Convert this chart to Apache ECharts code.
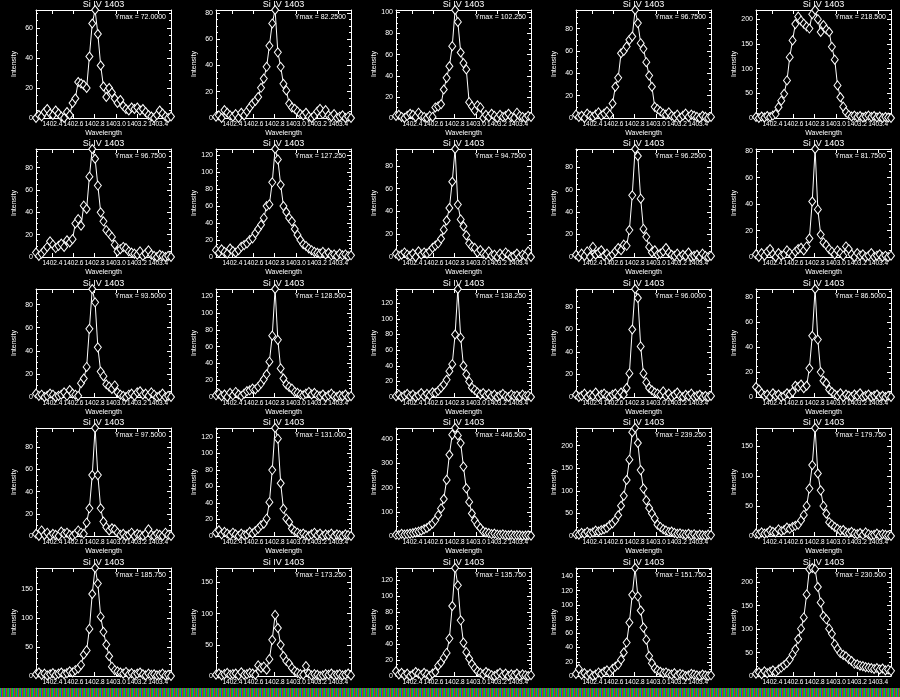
<!DOCTYPE html>
<html><head><meta charset="utf-8">
<script src="https://cdn.jsdelivr.net/npm/echarts@6/dist/echarts.min.js"></script>
<style>html,body{margin:0;padding:0;background:#000}#c{width:900px;height:697px}</style>
</head><body><div id="c"></div>
<script>
const wavelength = [1402.245,1402.272,1402.298,1402.325,1402.351,1402.378,1402.405,1402.431,1402.458,1402.484,1402.511,1402.538,1402.564,1402.591,1402.617,1402.644,1402.671,1402.697,1402.724,1402.750,1402.777,1402.804,1402.830,1402.857,1402.883,1402.910,1402.937,1402.963,1402.990,1403.016,1403.043,1403.070,1403.096,1403.123,1403.149,1403.176,1403.203,1403.229,1403.256,1403.282,1403.309,1403.336,1403.362,1403.389,1403.415,1403.442,1403.469,1403.495,1403.522];
const xTicks = [1402.4,1402.6,1402.8,1403.0,1403.2,1403.4];
const panelTitle = 'Si IV 1403';
const xName = 'Wavelength';
const yName = 'Intensity';
const yMax = [72,82.25,102.25,96.75,218.5, 96.75,127.25,94.75,96.25,81.75, 93.5,128.5,138.25,96,86.5, 97.5,131,446.5,239.25,179.75, 185.75,173.25,135.75,151.75,230.5];
const yStep = [20,20,20,20,50, 20,20,20,20,20, 20,20,20,20,20, 20,20,100,50,50, 50,50,20,20,50];

const p01 = [0,2,1,4,6,3,2,5,3,1,0,4,2,10,13,24,23,22,20,41,63,72,56,35,21,14,20,17,13,10,12,8,6,5,7,6,7,5,6,4,2,1,0,2,5,3,1,0,1];
const p02 = [1,2,0,6,4,2,1,3,0,4,2,5,8,11,13,16,23,30,39,55,72,82.25,50,39,26,21,11,8,7,5,3,2,4,1,0,2,5,7,3,6,2,1,3,0,1,2,0,1,0];
const p03 = [2,3,1,0,2,4,3,1,5,2,1,0,2,1,10,11,13,27,38,49,68,102.25,91,62,52,46,15,11,7,12,10,0,3,1,4,2,0,3,1,2,4,1,0,5,2,1,0,2,1];
const p04 = [3,1,2,0,4,2,1,3,5,2,4,6,3,13,28,36,58,60,64,70,73,96.75,85,67,62,50,38,28,10,8,6,4,3,5,2,1,3,0,2,4,1,3,2,1,0,2,1,0,1];
const p05 = [2,0,3,1,4,2,5,8,22,35,49,76,123,157,190,205,197,191,185,181,210,218.5,200,174,188,179,174,144,118,66,42,23,12,6,3,5,2,4,1,3,5,2,4,1,3,0,2,1,0];
const p06 = [4,1,3,6,9,14,11,8,10,12,9,15,13,16,30,34,28,46,43,72,96.75,88,64,40,32,24,21,18,11,5,7,9,8,5,4,3,2,5,1,3,6,2,1,0,2,1,0,1,0];
const p07 = [8,5,9,6,4,10,7,5,8,12,14,16,20,22,28,33,38,46,60,62,88,127.25,115,85,60,53,46,42,33,26,20,15,13,10,8,6,5,4,6,3,5,2,3,1,4,2,3,1,2];
const p08 = [3,1,2,4,2,1,3,0,5,2,4,3,5,8,10,12,16,24,32,43,66,94.75,46,33,27,19,12,9,8,4,6,3,2,5,1,2,0,3,1,4,2,0,1,3,0,2,1,5,0];
const p09 = [2,0,3,1,5,0,9,2,4,6,1,3,0,2,5,8,6,11,10,24,55,96.25,90,52,25,18,9,4,6,2,3,5,8,4,2,1,3,0,2,1,4,0,1,2,0,3,1,0,1];
const p10 = [2,0,3,1,4,6,2,0,3,1,2,5,3,1,4,6,7,5,8,14,42,81.75,36,17,11,9,6,4,2,5,3,1,8,6,2,0,3,1,2,0,1,3,0,1,2,0,1,0,1];
const p11 = [3,1,2,0,1,3,2,0,1,2,4,1,6,3,2,1,12,16,26,59,93.5,82,43,22,18,11,9,7,10,4,2,1,0,2,3,1,4,5,2,3,1,4,2,0,1,3,0,1,0];
const p12 = [2,4,1,3,0,5,2,6,3,1,4,7,8,10,9,12,16,21,27,42,73,128.5,68,34,22,15,12,10,6,5,3,2,4,6,3,5,2,1,3,0,2,4,1,0,2,1,3,0,1];
const p13 = [1,3,0,2,4,1,3,0,2,5,1,4,2,6,5,8,12,16,22,33,42,80,138.25,76,40,29,20,12,9,6,3,5,2,4,1,3,0,2,4,1,0,3,1,2,0,3,1,2,0];
const p14 = [2,0,1,3,0,2,1,4,0,2,3,1,0,2,3,1,4,2,8,21,60,96,88,45,21,13,8,6,4,3,2,5,1,3,0,2,4,1,0,2,1,3,0,1,2,0,1,0,1];
const p15 = [8,6,3,1,2,0,3,1,2,0,1,3,2,4,9,8,10,7,9,23,49,86.5,46,20,13,11,6,4,2,1,3,0,2,1,0,2,1,3,0,1,2,0,1,2,0,1,0,1,0];
const p16 = [2,0,5,1,3,0,2,1,0,4,2,3,1,0,2,5,3,2,12,25,55,97.5,55,25,13,8,5,7,6,3,1,2,0,1,3,0,2,1,0,2,6,1,0,2,1,0,3,1,0];
const p17 = [4,7,2,5,3,1,4,2,0,3,1,2,5,3,6,9,13,15,21,41,80,131,118,64,33,21,17,9,6,4,2,3,1,0,2,4,1,3,0,2,1,3,0,2,1,0,2,1,0];
const p18 = [5,4,9,6,8,10,12,15,18,22,28,33,42,51,65,86,114,153,232,336,419,446.5,416,384,287,197,141,93,65,47,33,19,15,12,8,10,6,5,7,4,3,5,2,4,3,1,2,3,1];
const p19 = [4,3,7,5,9,6,8,12,10,13,15,18,24,28,35,46,67,89,124,169,230,239.25,206,146,105,79,62,50,39,25,20,15,12,9,10,7,5,6,4,3,5,2,4,1,3,2,1,3,2];
const p20 = [4,3,6,4,5,9,7,6,11,8,10,14,12,15,17,19,26,35,50,79,118,179.75,104,76,50,37,23,19,15,12,9,10,6,5,7,4,3,5,2,6,3,1,2,4,1,3,2,1,0];
const p21 = [3,6,2,4,1,3,5,2,4,6,3,5,8,6,10,13,19,37,44,81,141,185.75,159,102,76,54,34,16,10,8,6,4,7,3,5,2,4,6,3,1,4,2,3,1,2,4,1,2,0];
const p22 = [2,4,1,3,5,2,3,4,1,6,2,3,5,4,2,17,13,15,10,27,58,98,77,50,32,24,20,13,8,5,3,2,16,4,1,3,2,0,1,3,2,4,1,2,3,1,2,4,1];
const p23 = [6,2,4,1,3,0,2,5,3,1,4,2,0,3,5,13,17,23,29,47,88,135.75,114,70,42,30,22,15,10,6,4,2,5,3,1,0,2,4,1,3,0,2,1,3,0,2,1,0,1];
const p24 = [3,10,2,4,1,3,0,2,5,3,6,8,5,10,13,16,23,33,47,75,114,151.75,112,92,68,51,28,18,11,8,6,4,5,3,2,4,1,3,2,0,1,3,2,1,0,2,1,0,1];
const p25 = [5,8,4,10,6,9,12,8,14,18,23,28,35,46,57,79,101,125,174,228,230.5,228,190,157,128,121,101,90,68,58,49,45,42,36,32,26,25,22,21,19,18,17,15,17,14,16,12,14,11];

const panels = [p01,p02,p03,p04,p05,p06,p07,p08,p09,p10,p11,p12,p13,p14,p15,p16,p17,p18,p19,p20,p21,p22,p23,p24,p25];

const chart = echarts.init(document.getElementById('c'), null, {renderer:'canvas'});
const W = 180, H = 139.4, PL = 36, PT = 10, PW = 135, PH = 108;
const FONT = 'Liberation Sans, Arial, sans-serif';
const white = '#ffffff';
const grid = [], xAxis = [], yAxis = [], series = [], graphic = [];

panels.forEach((vals, k) => {
  const r = Math.floor(k / 5), c = k % 5;
  const gx = c * W + PL, gy = Math.round(r * H + PT);
  grid.push({left: gx, top: gy, width: PW, height: PH, containLabel: false});
  const xBase = {
    type: 'value', gridIndex: k, min: wavelength[0], max: wavelength[wavelength.length - 1],
    axisLine: {show: true, onZero: false, lineStyle: {color: white, width: 1}},
    axisTick: {show: true, inside: true, length: 4, customValues: xTicks, lineStyle: {color: white, width: 1}},
    splitLine: {show: false}
  };
  xAxis.push(Object.assign({}, xBase, {
    position: 'bottom',
    axisLabel: {show: true, customValues: xTicks, color: white, fontSize: 6.5, fontFamily: FONT, margin: 3,
      showMinLabel: true, showMaxLabel: true, hideOverlap: false,
      formatter: v => Number(v).toFixed(1)},
    name: xName, nameLocation: 'middle', nameGap: 12,
    nameTextStyle: {color: white, fontSize: 7, fontFamily: FONT}
  }));
  xAxis.push(Object.assign({}, xBase, {position: 'top', axisLabel: {show: false}}));
  const yBase = {
    type: 'value', gridIndex: k, min: 0, max: yMax[k], interval: yStep[k],
    axisLine: {show: true, onZero: false, lineStyle: {color: white, width: 1}},
    axisTick: {show: true, inside: true, length: 4, lineStyle: {color: white, width: 1}},
    minorTick: {show: true, splitNumber: yStep[k] === 20 ? 4 : 5, length: 2, lineStyle: {color: white, width: 1}},
    splitLine: {show: false}
  };
  yAxis.push(Object.assign({}, yBase, {
    position: 'left',
    axisLabel: {show: true, color: white, fontSize: 7, fontFamily: FONT, margin: 3, showMaxLabel: false},
    name: yName, nameLocation: 'middle', nameGap: 18, nameRotate: 90,
    nameTextStyle: {color: white, fontSize: 7, fontFamily: FONT}
  }));
  yAxis.push(Object.assign({}, yBase, {position: 'right', axisLabel: {show: false}}));
  series.push({
    type: 'line', xAxisIndex: 2 * k, yAxisIndex: 2 * k,
    data: wavelength.map((w, i) => [w, vals[i]]),
    symbol: 'diamond', symbolSize: [7, 9], showSymbol: true,
    lineStyle: {color: white, width: 1},
    itemStyle: {color: '#000', borderColor: white, borderWidth: 1},
    silent: true, animation: false, clip: true
  });
  graphic.push({
    type: 'text', x: gx + PW / 2, y: Math.round(r * H), silent: true,
    style: {text: panelTitle, fill: white, font: '9px ' + FONT, align: 'center', textAlign: 'center', verticalAlign: 'top', textVerticalAlign: 'top'}
  });
  graphic.push({
    type: 'text', x: gx + PW - 5, y: gy + 4, silent: true,
    style: {text: 'Ymax = ' + yMax[k].toPrecision(6), fill: white, font: '7px ' + FONT, align: 'right', textAlign: 'right', verticalAlign: 'top', textVerticalAlign: 'top'}
  });
});

// striped band at the bottom edge
const pc = document.createElement('canvas');
pc.width = 4; pc.height = 1;
const pctx = pc.getContext('2d');
['#22c022', '#2a48d0', '#d03030', '#18a818'].forEach((col, i) => { pctx.fillStyle = col; pctx.fillRect(i, 0, 1, 1); });
graphic.push({
  type: 'rect', z: 100, silent: true,
  shape: {x: 0, y: 688, width: 900, height: 9},
  style: {fill: {image: pc, repeat: 'repeat'}}
});

chart.setOption({
  backgroundColor: '#000',
  animation: false,
  textStyle: {fontFamily: FONT},
  grid, xAxis, yAxis, series, graphic
});
</script></body></html>
